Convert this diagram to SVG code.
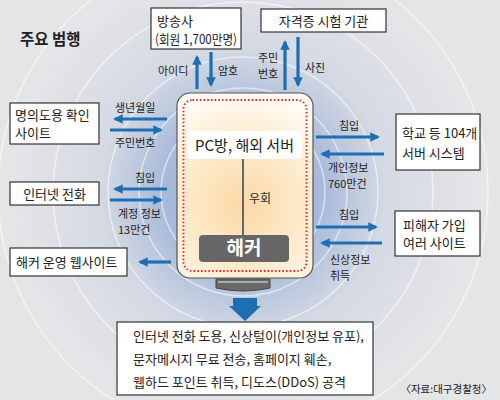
<svg xmlns="http://www.w3.org/2000/svg" width="500" height="400" viewBox="0 0 500 400">
<defs>
<radialGradient id="bg" cx="243" cy="192" r="230" gradientUnits="userSpaceOnUse">
<stop offset="0" stop-color="#8ea7d0"/>
<stop offset="0.35" stop-color="#a9bbda"/>
<stop offset="0.62" stop-color="#d4d9e3"/>
<stop offset="1" stop-color="#e4e5e7"/>
</radialGradient>
<radialGradient id="scr" cx="243" cy="205" r="110" gradientUnits="userSpaceOnUse">
<stop offset="0" stop-color="#fbd9a6"/>
<stop offset="0.6" stop-color="#fdeccf"/>
<stop offset="1" stop-color="#fffaf2"/>
</radialGradient>
<marker id="ah" viewBox="0 0 10 10" refX="8" refY="5" markerWidth="3" markerHeight="3" orient="auto" markerUnits="strokeWidth">
<path d="M0,0 L10,5 L0,10 z" fill="#1f6db3"/>
</marker>
<style>
.t{font-family:"Noto Sans CJK KR","Noto Sans",sans-serif;fill:#222}
.box{fill:#fff;stroke:#333;stroke-width:1.2}
.bt{font-size:13px}
.lb{font-size:11px}
.ar{stroke:#1f6db3;stroke-width:3.2;fill:none;marker-end:url(#ah)}
.ring{fill:none;stroke:#fff;stroke-opacity:0.55;stroke-width:1.5}
</style>
</defs>
<rect width="500" height="400" fill="#e4e5e7"/>
<rect width="500" height="400" fill="url(#bg)"/>
<g id="rings">
<circle class="ring" cx="243" cy="192" r="82"/>
<circle class="ring" cx="243" cy="192" r="104"/>
<circle class="ring" cx="243" cy="192" r="135"/>
<circle class="ring" cx="243" cy="192" r="190"/>
<circle class="ring" cx="243" cy="192" r="245"/>
</g>
<text class="t" x="20" y="45" font-size="15.5" font-weight="bold">주요 범행</text>

<g id="hacker-monitor">
<path d="M216,279 H270 V288 Q243,294 216,288 Z" fill="#6a6a6a" stroke="#444" stroke-width="1"/>
<rect x="218" y="281" width="50" height="2" fill="#aaa"/>
<rect x="177" y="93" width="136" height="185" rx="13" fill="url(#scr)" stroke="#555" stroke-width="1.2"/>
<rect x="183.5" y="100" width="123" height="171" rx="9" fill="none" stroke="#e02020" stroke-width="1.8" stroke-dasharray="1.5 2.2"/>
<rect x="187" y="131" width="115" height="28" rx="5" fill="#fff"/>
<text class="t" x="244.5" y="151" font-size="15" text-anchor="middle">PC방, 해외 서버</text>
<line x1="243" y1="159" x2="243" y2="236" stroke="#666" stroke-width="2"/>
<text class="t" x="249" y="203" font-size="12">우회</text>
<rect x="199" y="235" width="90" height="27" rx="4" fill="#666"/>
<text x="244" y="255" font-size="19" font-weight="bold" fill="#fff" text-anchor="middle" font-family="Noto Sans CJK KR, sans-serif">해커</text>
</g>

<g id="broadcaster">
<rect class="box" x="151" y="8" width="90" height="41"/>
<text class="t bt" x="157" y="26">방송사</text>
<text class="t bt" x="155" y="44" textLength="82" lengthAdjust="spacingAndGlyphs">(회원 1,700만명)</text>
</g>
<g id="cert-agency">
<rect class="box" x="261" y="9" width="125" height="23"/>
<text class="t bt" x="323.5" y="25.5" text-anchor="middle">자격증 시험 기관</text>
</g>
<g id="id-check-site">
<rect class="box" x="10" y="103" width="89" height="41"/>
<text class="t bt" x="15" y="120">명의도용 확인</text>
<text class="t bt" x="15" y="138">사이트</text>
</g>
<g id="internet-phone">
<rect class="box" x="10" y="182" width="89" height="23"/>
<text class="t bt" x="54.5" y="198.5" text-anchor="middle">인터넷 전화</text>
</g>
<g id="hacker-website">
<rect class="box" x="10" y="248" width="117" height="28"/>
<text class="t bt" x="16" y="267">해커 운영 웹사이트</text>
</g>
<g id="school-servers">
<rect class="box" x="396" y="114" width="84" height="56"/>
<text class="t bt" x="402" y="138">학교 등 104개</text>
<text class="t bt" x="402" y="158">서버 시스템</text>
</g>
<g id="victim-sites">
<rect class="box" x="395" y="211" width="85" height="45"/>
<text class="t bt" x="403" y="230">피해자 가입</text>
<text class="t bt" x="403" y="248">여러 사이트</text>
</g>
<g id="results">
<rect class="box" x="117" y="322" width="256" height="73"/>
<text class="t bt" x="133" y="341">인터넷 전화 도용, 신상털이(개인정보 유포),</text>
<text class="t bt" x="133" y="364">문자메시지 무료 전송, 홈페이지 훼손,</text>
<text class="t bt" x="133" y="387">웹하드 포인트 취득, 디도스(DDoS) 공격</text>
</g>
<text class="t" x="492" y="393" font-size="10.5" text-anchor="end">〈자료:대구경찰청〉</text>

<g id="connectors">
<line class="ar" x1="197" y1="89" x2="197" y2="57"/>
<line class="ar" x1="211" y1="52" x2="211" y2="85"/>
<line class="ar" x1="285" y1="90" x2="285" y2="42"/>
<line class="ar" x1="298" y1="37" x2="298" y2="85"/>
<line class="ar" x1="167" y1="119" x2="115" y2="119"/>
<line class="ar" x1="110" y1="130" x2="161" y2="130"/>
<line class="ar" x1="167" y1="189" x2="115" y2="189"/>
<line class="ar" x1="110" y1="200" x2="161" y2="200"/>
<line class="ar" x1="171" y1="262" x2="140" y2="262"/>
<line class="ar" x1="316" y1="137" x2="378" y2="137"/>
<line class="ar" x1="384" y1="154" x2="322" y2="154"/>
<line class="ar" x1="316" y1="227" x2="376" y2="227"/>
<line class="ar" x1="382" y1="243" x2="322" y2="243"/>
<path d="M233,298 H257 V306 H261 L245,321 L229,306 H233 Z" fill="#1f6db3"/>
<text class="t lb" x="158" y="75">아이디</text>
<text class="t lb" x="218" y="75">암호</text>
<text class="t lb" x="258" y="62">주민</text>
<text class="t lb" x="258" y="78">번호</text>
<text class="t lb" x="305" y="72">사진</text>
<text class="t lb" x="115" y="112">생년월일</text>
<text class="t lb" x="115" y="147">주민번호</text>
<text class="t lb" x="135" y="182">침입</text>
<text class="t lb" x="118" y="218">계정 정보</text>
<text class="t lb" x="118" y="234">13만건</text>
<text class="t lb" x="339" y="130">침입</text>
<text class="t lb" x="328" y="172">개인정보</text>
<text class="t lb" x="328" y="188">760만건</text>
<text class="t lb" x="339" y="219">침입</text>
<text class="t lb" x="330" y="264">신상정보</text>
<text class="t lb" x="330" y="280">취득</text>
</g>
</svg>
